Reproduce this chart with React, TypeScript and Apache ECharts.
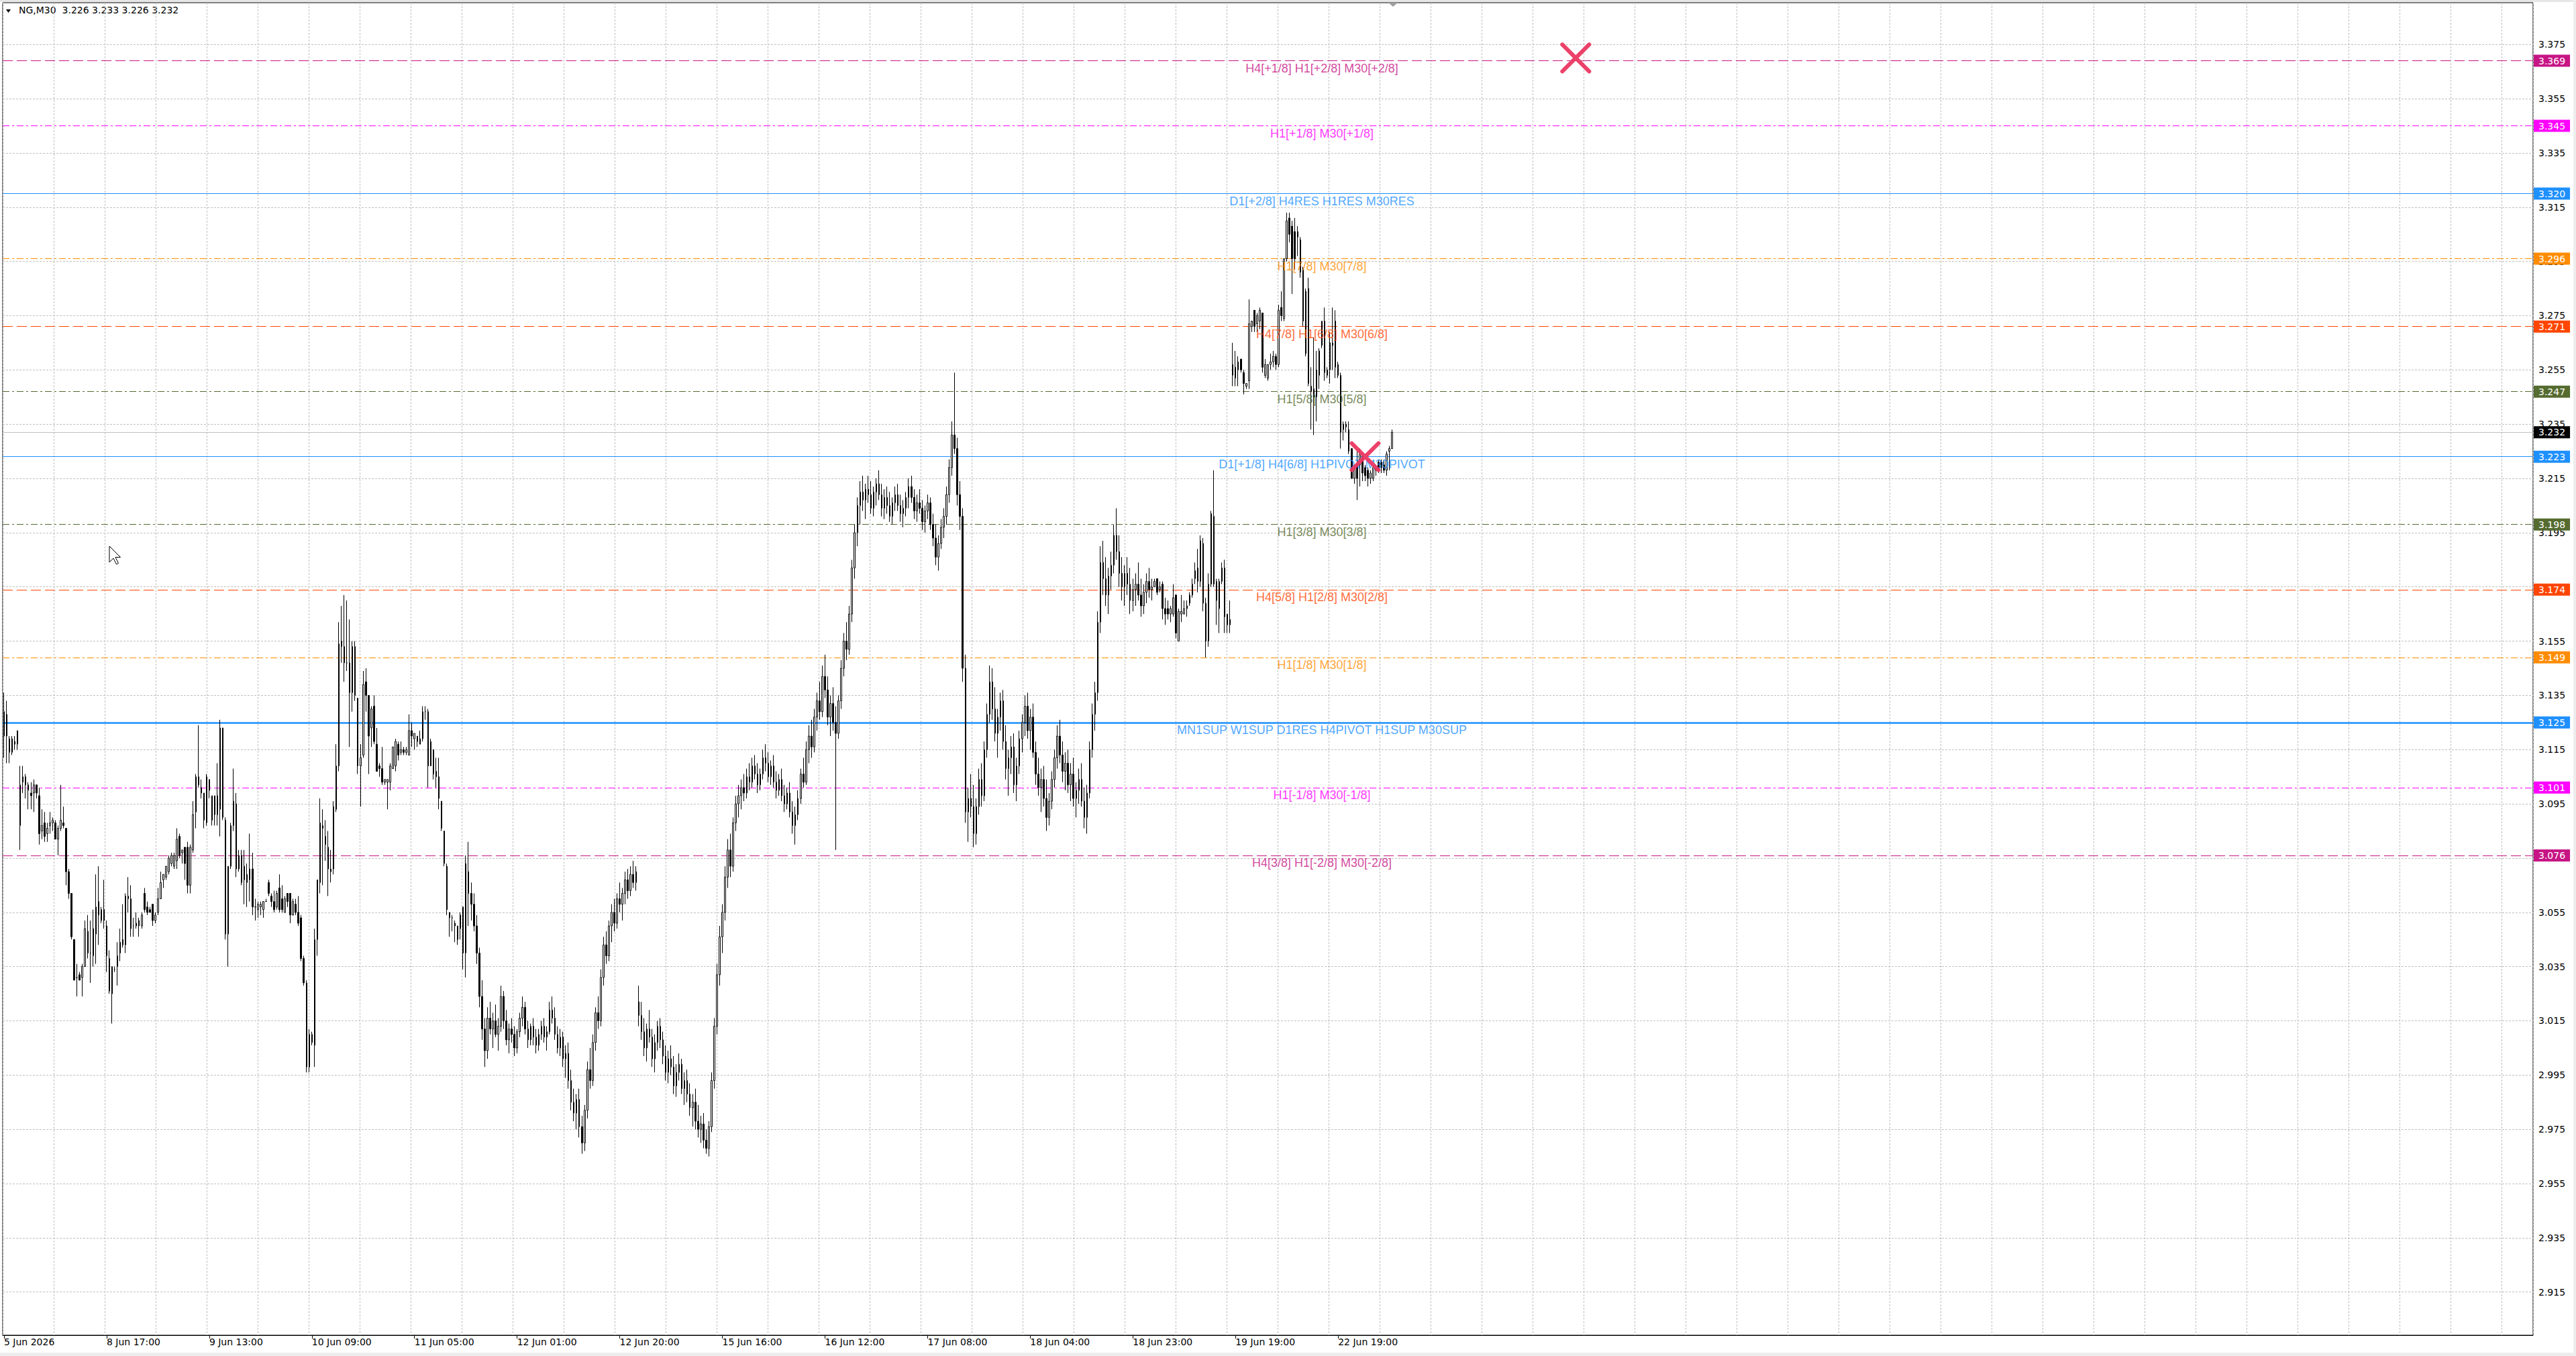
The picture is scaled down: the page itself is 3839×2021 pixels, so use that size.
import React, { useEffect, useRef } from 'react';
import * as echarts from 'echarts';

// ---------- DATA (prices in thousandths: [open, high, low, close]) ----------
const barsFri5Jun = [
  [3120,3136,3112,3129],[3128,3133,3110,3120],[3119,3120,3110,3114],[3114,3120,3113,3119],[3118,3120,3115,3117],[3117,3122,3115,3122],
];

const barsWeek8Jun = [
  [3087,3109,3078,3102],[3103,3109,3099,3105],[3102,3106,3097,3105],[3102,3103,3093,3100],[3099,3103,3093,3098],[3099,3104,3092,3102],[3102,3102,3097,3099],[3098,3101,3080,3084],[3085,3093,3082,3087],[3088,3092,3081,3083],
  [3084,3088,3081,3086],[3087,3092,3084,3088],[3088,3090,3085,3089],[3088,3089,3082,3082],[3082,3087,3076,3086],[3086,3102,3085,3089],[3088,3094,3086,3087],[3086,3086,3065,3070],[3070,3071,3060,3062],[3062,3062,3045,3046],
  [3045,3045,3030,3030],[3031,3036,3024,3031],[3032,3033,3030,3030],[3031,3036,3024,3035],[3035,3052,3035,3049],[3048,3054,3038,3040],[3040,3052,3029,3040],[3039,3056,3035,3049],[3047,3069,3036,3057],[3054,3072,3043,3059],
  [3056,3057,3051,3052],[3056,3067,3049,3052],[3050,3052,3033,3039],[3038,3041,3025,3026],[3025,3035,3014,3035],[3034,3035,3033,3034],[3035,3044,3028,3039],[3040,3049,3037,3044],[3045,3058,3042,3043],[3043,3062,3040,3061],
  [3060,3068,3055,3061],[3060,3065,3046,3049],[3050,3053,3046,3050],[3051,3055,3049,3050],[3050,3053,3046,3052],[3050,3055,3049,3054],[3062,3064,3055,3056],[3057,3059,3054,3055],[3056,3057,3055,3055],[3058,3058,3050,3052],
  [3052,3055,3051,3054],[3055,3064,3054,3060],[3060,3070,3060,3066],[3067,3069,3064,3069],[3068,3072,3067,3072],[3070,3076,3069,3075],[3073,3077,3072,3076],[3072,3077,3071,3076],[3074,3086,3071,3082],[3083,3084,3075,3076],
  [3077,3078,3073,3078],[3079,3079,3067,3073],[3079,3081,3062,3065],[3065,3080,3062,3079],[3078,3096,3077,3091],[3092,3106,3086,3105],[3105,3124,3101,3102],[3101,3104,3097,3099],[3099,3099,3086,3089],[3088,3106,3087,3105],
  [3104,3104,3097,3100],[3098,3098,3087,3089],[3091,3098,3087,3098],[3091,3110,3087,3098],[3093,3126,3083,3123],[3123,3123,3089,3090],[3089,3090,3045,3047],[3047,3072,3035,3072],[3072,3088,3071,3087],[3087,3108,3085,3096],
  [3095,3099,3068,3071],[3071,3078,3070,3076],[3076,3078,3065,3066],[3072,3078,3058,3067],[3069,3073,3057,3066],[3067,3084,3059,3071],[3071,3077,3054,3057],[3057,3060,3052,3057],[3056,3059,3053,3058],[3057,3059,3054,3058],
  [3056,3059,3053,3059],[3059,3060,3059,3059],[3066,3067,3061,3062],[3061,3062,3057,3059],[3059,3063,3055,3056],[3057,3063,3056,3062],[3064,3069,3055,3056],[3060,3065,3055,3056],[3055,3061,3055,3060],[3062,3062,3057,3059],
  [3062,3062,3051,3054],[3054,3060,3054,3059],[3058,3060,3054,3055],[3055,3061,3050,3051],[3053,3054,3037,3038],[3038,3039,3028,3029],[3029,3030,2996,2998],[3010,3012,2996,2998],[3010,3011,3006,3007],[3006,3049,2998,3045],
  [3045,3067,3039,3067],[3066,3097,3062,3088],[3087,3093,3065,3086],[3083,3089,3074,3080],[3079,3085,3061,3071],[3071,3078,3066,3070],[3071,3096,3069,3094],[3093,3117,3092,3109],[3109,3162,3107,3154],[3155,3168,3147,3153],
  [3153,3172,3140,3147],[3147,3170,3144,3147],[3147,3163,3116,3136],[3136,3155,3129,3153],[3153,3155,3133,3135],[3134,3134,3106,3109],[3109,3117,3094,3112],[3113,3144,3112,3139],[3140,3145,3129,3135],[3135,3135,3106,3120],
  [3123,3131,3116,3130],[3131,3135,3117,3118],[3117,3123,3107,3107],[3109,3110,3105,3108],[3108,3116,3102,3103],[3103,3104,3102,3104],[3103,3104,3093,3104],[3103,3110,3100,3109],[3108,3116,3108,3116],[3109,3119,3107,3118],
  [3117,3118,3111,3113],[3114,3118,3113,3115],[3115,3116,3113,3114],[3114,3116,3113,3115],[3113,3128,3113,3122],[3122,3125,3116,3120],[3119,3121,3115,3121],[3120,3120,3116,3118],[3117,3122,3117,3119],[3119,3131,3118,3129],
  [3129,3131,3126,3129],[3129,3130,3101,3109],[3109,3119,3109,3118],[3115,3115,3104,3106],[3107,3112,3101,3105],[3105,3112,3093,3097],[3096,3096,3085,3086],[3085,3085,3072,3073],[3072,3073,3054,3056],[3055,3055,3046,3053],
  [3053,3054,3048,3053],[3051,3052,3044,3050],[3050,3050,3043,3045],[3049,3055,3045,3054],[3057,3057,3034,3040],[3040,3076,3031,3073],[3070,3081,3050,3062],
  [3062,3066,3052,3058],[3058,3062,3048,3050],[3050,3054,3036,3040],[3040,3042,3020,3024],[3024,3030,3008,3012],[3012,3016,2998,3004],[3004,3020,3001,3016],[3016,3022,3010,3012],[3012,3018,3005,3015],[3015,3021,3009,3010],
  [3010,3016,3004,3013],[3013,3028,3011,3024],[3024,3026,3012,3015],[3015,3019,3006,3008],[3008,3014,3003,3012],[3012,3016,3007,3010],[3010,3013,3002,3005],[3005,3012,3003,3011],[3011,3018,3009,3016],[3016,3024,3013,3020],
  [3020,3022,3010,3012],[3012,3015,3005,3008],[3008,3014,3006,3013],[3013,3016,3006,3009],[3009,3012,3003,3006],[3006,3012,3004,3010],[3010,3015,3008,3013],[3013,3016,3007,3009],[3009,3013,3004,3011],[3011,3022,3010,3019],
  [3019,3024,3014,3016],[3016,3020,3008,3010],[3010,3013,3003,3005],[3005,3012,3002,3009],[3009,3011,2998,3001],[3001,3006,2994,3003],[3003,3007,2990,2993],[2993,2997,2982,2985],[2985,2990,2978,2981],[2981,2988,2975,2986],
  [2986,2990,2972,2976],[2976,2980,2966,2970],[2970,2984,2967,2982],[2982,3000,2979,2997],[2997,3005,2990,2993],[2993,3010,2991,3007],[3007,3020,3004,3018],[3018,3024,3012,3015],[3015,3034,3013,3031],[3031,3046,3028,3043],
  [3043,3048,3036,3039],[3039,3052,3037,3050],[3050,3058,3044,3055],[3055,3060,3048,3051],[3051,3062,3049,3060],[3060,3066,3055,3058],[3058,3064,3052,3062],[3062,3070,3058,3067],[3067,3071,3060,3063],[3063,3072,3061,3069],
  [3069,3074,3064,3066],[3066,3072,3063,3070],
];

const barsWeek15Jun = [
  [3022,3028,3013,3017],[3017,3022,3008,3011],[3011,3016,3002,3005],[3005,3014,3000,3012],[3012,3019,3007,3009],[3009,3012,2998,3001],[3001,3010,2996,3007],[3007,3015,3004,3013],[3013,3016,3005,3008],[3008,3011,2999,3002],
  [3002,3006,2993,2996],[2996,3004,2992,3001],[3001,3006,2995,2998],[2998,3002,2988,2991],[2991,2999,2987,2996],[2996,3003,2993,2999],[2999,3001,2988,2990],[2990,2996,2984,2993],[2993,2997,2985,2988],[2988,2992,2980,2983],
  [2983,2988,2976,2985],[2985,2990,2975,2978],[2978,2984,2972,2975],[2975,2980,2970,2977],[2977,2981,2968,2971],[2971,2975,2966,2968],[2968,2978,2965,2976],[2976,2996,2974,2993],[2993,3016,2990,3013],[3013,3036,3010,3032],
  [3032,3050,3028,3046],[3046,3058,3040,3055],[3055,3072,3052,3068],[3068,3082,3064,3078],[3078,3084,3068,3072],[3072,3090,3070,3088],[3088,3098,3085,3095],[3095,3102,3090,3098],[3098,3104,3093,3101],[3101,3106,3096,3099],
  [3099,3108,3097,3105],[3105,3110,3100,3103],[3103,3112,3101,3109],[3109,3113,3104,3106],[3106,3110,3099,3102],[3102,3108,3100,3106],[3106,3115,3104,3112],[3112,3117,3107,3110],[3110,3114,3103,3105],[3105,3111,3102,3109],
  [3109,3113,3101,3103],[3103,3107,3097,3100],[3100,3106,3098,3104],[3104,3108,3096,3098],[3098,3102,3092,3095],[3095,3101,3093,3099],[3099,3103,3090,3092],[3092,3096,3084,3087],[3087,3094,3080,3091],[3091,3100,3089,3097],
  [3097,3108,3095,3106],[3106,3112,3101,3103],[3103,3118,3102,3115],[3115,3124,3110,3120],[3120,3126,3112,3116],[3116,3130,3114,3127],[3127,3136,3122,3133],[3133,3140,3126,3129],[3129,3146,3127,3142],[3142,3150,3134,3137],
  [3137,3142,3124,3127],[3127,3135,3120,3132],[3132,3138,3122,3125],[3125,3131,3078,3121],[3121,3135,3119,3133],[3133,3148,3130,3145],[3145,3158,3142,3155],[3155,3162,3148,3152],[3152,3168,3150,3165],[3165,3185,3162,3182],
  [3182,3198,3178,3195],[3195,3208,3190,3205],[3205,3214,3198,3210],[3210,3216,3203,3207],[3207,3213,3200,3211],[3211,3216,3206,3209],[3209,3214,3202,3204],[3204,3212,3201,3210],[3210,3215,3205,3213],[3213,3218,3207,3209],
  [3209,3213,3201,3204],[3204,3211,3200,3208],[3208,3212,3202,3205],[3205,3210,3199,3201],[3201,3208,3198,3206],[3206,3212,3203,3209],[3209,3213,3203,3205],[3205,3209,3199,3202],[3202,3207,3197,3204],[3204,3210,3201,3208],
  [3208,3215,3204,3212],[3212,3216,3206,3208],[3208,3211,3200,3203],[3203,3209,3199,3206],[3206,3211,3202,3204],[3204,3207,3196,3199],[3199,3205,3195,3203],[3203,3209,3200,3206],[3206,3208,3196,3198],[3198,3202,3190,3193],
  [3193,3198,3183,3186],[3186,3194,3181,3191],[3191,3200,3189,3197],[3197,3204,3193,3201],[3201,3212,3198,3209],[3209,3222,3206,3219],[3219,3236,3216,3231],[3231,3254,3224,3226],[3226,3230,3205,3209],[3209,3214,3196,3201],
  [3201,3204,3140,3145],[3145,3150,3088,3092],[3092,3101,3081,3097],[3097,3106,3090,3094],[3094,3102,3079,3084],[3084,3097,3080,3094],[3094,3108,3091,3104],[3104,3110,3094,3098],[3098,3118,3096,3115],[3115,3132,3112,3128],
  [3128,3146,3125,3140],[3140,3145,3126,3130],[3130,3138,3118,3121],[3121,3130,3112,3127],[3127,3136,3122,3133],[3133,3137,3115,3118],[3118,3124,3104,3108],[3108,3115,3098,3112],[3112,3120,3106,3116],[3116,3121,3099,3102],
  [3102,3112,3096,3109],[3109,3122,3106,3119],[3119,3128,3114,3125],[3125,3135,3120,3131],[3131,3136,3119,3122],[3122,3130,3115,3127],[3127,3132,3112,3114],[3114,3118,3102,3106],[3106,3112,3098,3101],[3101,3108,3092,3104],
  [3104,3109,3094,3097],[3097,3104,3085,3090],[3090,3099,3087,3096],[3096,3107,3093,3104],[3104,3115,3101,3112],[3112,3124,3108,3120],[3120,3126,3110,3113],[3113,3118,3103,3107],[3107,3114,3100,3110],[3110,3115,3099,3102],
  [3102,3110,3096,3106],[3106,3112,3094,3097],[3097,3103,3090,3100],[3100,3108,3095,3104],[3104,3110,3094,3096],[3096,3101,3086,3090],[3090,3102,3084,3099],[3099,3118,3097,3115],[3115,3132,3112,3128],[3128,3140,3122,3136],
  [3136,3166,3133,3162],[3162,3190,3158,3184],[3184,3192,3172,3178],[3178,3186,3168,3172],[3172,3182,3165,3179],[3179,3188,3174,3183],[3183,3198,3180,3194],[3194,3204,3185,3188],[3188,3194,3175,3180],[3180,3186,3170,3175],
  [3175,3183,3168,3180],[3180,3186,3172,3176],[3176,3182,3165,3170],[3170,3178,3166,3174],[3174,3180,3168,3176],[3176,3184,3170,3172],[3172,3178,3164,3168],[3168,3176,3165,3173],[3173,3180,3169,3177],[3177,3182,3171,3174],
  [3174,3178,3170,3175],
  [3175,3178,3175,3177],[3178,3178,3172,3173],[3174,3177,3173,3175],[3176,3177,3163,3167],[3167,3171,3161,3165],[3167,3170,3163,3165],[3165,3168,3162,3167],[3165,3176,3164,3171],[3172,3172,3156,3158],[3155,3167,3155,3166],
  [3165,3172,3162,3166],[3165,3170,3165,3167],[3167,3170,3164,3168],[3169,3173,3168,3172],[3172,3178,3171,3176],[3178,3184,3176,3181],[3182,3189,3173,3177],[3177,3194,3175,3192],[3191,3193,3166,3169],[3169,3171,3149,3155],
  [3155,3180,3153,3176],[3176,3203,3175,3202],[3201,3218,3175,3176],[3170,3178,3161,3177],[3167,3178,3158,3177],[3177,3184,3176,3182],[3182,3185,3158,3164],[3165,3165,3158,3161],[3161,3170,3158,3163],
];

const barsMon22Jun = [
  [3253,3265,3249,3257],[3256,3262,3249,3252],[3255,3260,3249,3258],[3259,3259,3254,3255],[3254,3255,3246,3250],[3249,3250,3248,3250],[3251,3281,3248,3272],[3271,3273,3269,3273],[3277,3277,3269,3271],[3272,3276,3269,3275],
  [3273,3278,3270,3277],[3276,3276,3254,3256],[3253,3259,3252,3257],[3252,3257,3251,3257],[3257,3261,3255,3258],[3258,3262,3256,3260],[3260,3261,3255,3257],[3257,3279,3256,3277],[3278,3284,3273,3275],[3274,3296,3273,3296],
  [3296,3313,3295,3310],[3311,3313,3302,3305],[3308,3310,3283,3296],[3306,3311,3292,3296],[3306,3308,3297,3304],[3303,3304,3289,3291],[3292,3293,3271,3273],[3261,3285,3260,3284],[3285,3289,3249,3250],[3249,3256,3233,3247],
  [3248,3267,3231,3245],[3245,3262,3236,3255],[3253,3263,3248,3262],[3264,3273,3263,3273],[3273,3278,3251,3254],[3253,3256,3252,3255],[3255,3269,3250,3265],[3265,3278,3255,3264],[3273,3277,3252,3256],[3257,3258,3252,3253],
  [3253,3254,3226,3232],[3233,3236,3229,3235],[3235,3236,3232,3234],[3233,3236,3224,3225],[3226,3226,3215,3215],[3215,3220,3213,3219],[3220,3225,3207,3215],[3220,3226,3212,3224],[3223,3224,3214,3217],[3219,3220,3214,3216],
  [3218,3219,3212,3215],[3215,3218,3213,3217],[3215,3220,3214,3219],[3218,3220,3216,3219],[3221,3222,3217,3218],[3221,3222,3217,3219],[3220,3222,3217,3218],[3218,3225,3216,3224],[3225,3227,3218,3226],[3226,3233,3226,3232],
];

const TOTAL_SLOTS = 937; // bar slots on the time axis (data + empty right margin)

const xTickLabels: [number, string][] = [
  [0, '5 Jun 2026'], [38, '8 Jun 17:00'], [76, '9 Jun 13:00'], [114, '10 Jun 09:00'],
  [152, '11 Jun 05:00'], [190, '12 Jun 01:00'], [228, '12 Jun 20:00'], [266, '15 Jun 16:00'],
  [304, '16 Jun 12:00'], [342, '17 Jun 08:00'], [380, '18 Jun 04:00'], [418, '18 Jun 23:00'],
  [456, '19 Jun 19:00'], [494, '22 Jun 19:00'],
];

const yTickValues = [
  2.915, 2.935, 2.955, 2.975, 2.995, 3.015, 3.035, 3.055, 3.075, 3.095, 3.115, 3.135,
  3.155, 3.175, 3.195, 3.215, 3.235, 3.255, 3.275, 3.295, 3.315, 3.335, 3.355, 3.375,
];

const levelPrices = [3.369, 3.345, 3.320, 3.296, 3.271, 3.247, 3.223, 3.198, 3.174, 3.149, 3.125, 3.101, 3.076];
const levelTexts = [
  'H4[+1/8] H1[+2/8] M30[+2/8]',
  'H1[+1/8] M30[+1/8]',
  'D1[+2/8] H4RES H1RES M30RES',
  'H1[7/8] M30[7/8]',
  'H4[7/8] H1[6/8] M30[6/8]',
  'H1[5/8] M30[5/8]',
  'D1[+1/8] H4[6/8] H1PIVOT M30PIVOT',
  'H1[3/8] M30[3/8]',
  'H4[5/8] H1[2/8] M30[2/8]',
  'H1[1/8] M30[1/8]',
  'MN1SUP W1SUP D1RES H4PIVOT H1SUP M30SUP',
  'H1[-1/8] M30[-1/8]',
  'H4[3/8] H1[-2/8] M30[-2/8]',
];

const crossMarks = [[582, 3.370], [504, 3.223]];

// ---------- STYLES ----------
const DASH = [15, 6];
const DASHDOT = [10, 4, 3, 4];
const levelStyles = [
  { color: '#C71585', type: DASH, width: 1 },
  { color: '#FF00FF', type: DASHDOT, width: 1 },
  { color: '#1E90FF', type: 'solid', width: 1 },
  { color: '#FF8C00', type: DASHDOT, width: 1 },
  { color: '#FF4500', type: DASH, width: 1 },
  { color: '#556B2F', type: DASHDOT, width: 1 },
  { color: '#1E90FF', type: 'solid', width: 1 },
  { color: '#556B2F', type: DASHDOT, width: 1 },
  { color: '#FF4500', type: DASH, width: 1 },
  { color: '#FF8C00', type: DASHDOT, width: 1 },
  { color: '#1E90FF', type: 'solid', width: 2.5 },
  { color: '#FF00FF', type: DASHDOT, width: 1 },
  { color: '#C71585', type: DASH, width: 1 },
];

const AXIS_FONT = 'DejaVu Sans';
const TEXT_FONT = 'Liberation Sans';
const LEVEL_LABEL_SLOT = 488;
const Y_MIN = 2.8991;
const Y_MAX = 3.3904;

function buildOption() {
  const allBars = [...barsFri5Jun, ...barsWeek8Jun, ...barsWeek15Jun, ...barsMon22Jun];
  const candleData = allBars.map(([o, h, l, c]) => [o / 1000, c / 1000, l / 1000, h / 1000]);
  const last = allBars[allBars.length - 1];
  const lastClose = last[3] / 1000;
  const categories = Array.from({ length: TOTAL_SLOTS }, (_, i) => String(i));
  const labelMap = new Map<number, string>(xTickLabels);

  const gridLines = yTickValues.map((v) => ({
    yAxis: v,
    lineStyle: { color: '#C0C0C0', type: [3, 2], width: 1 },
    label: {
      show: true, position: 'end', distance: 8, formatter: v.toFixed(3),
      color: '#000', fontFamily: AXIS_FONT, fontSize: 14,
    },
  }));
  const boxLabel = (text: string, bg: string) => ({
    show: true, position: 'end', distance: 1, formatter: text,
    color: '#fff', backgroundColor: bg, padding: [2, 7, 1, 7],
    fontFamily: AXIS_FONT, fontSize: 14, lineHeight: 15,
  });
  const levelLines = levelPrices.map((p, i) => ({
    yAxis: p,
    lineStyle: { ...levelStyles[i] },
    label: boxLabel(p.toFixed(3), levelStyles[i].color),
  }));
  const priceLine = {
    yAxis: lastClose,
    lineStyle: { color: '#C0C0C0', type: 'solid', width: 1 },
    label: boxLabel(lastClose.toFixed(3), '#000000'),
  };

  const header = `NG,M30\u00a0\u00a0${(last[0] / 1000).toFixed(3)} ${(last[1] / 1000).toFixed(3)} ${(last[2] / 1000).toFixed(3)} ${(last[3] / 1000).toFixed(3)}`;

  return {
    animation: false,
    backgroundColor: '#ffffff',
    grid: { left: 4, top: 4, right: 64, bottom: 31, show: true, borderColor: '#000', borderWidth: 1, backgroundColor: 'transparent' },
    xAxis: [
      {
        type: 'category', data: categories, boundaryGap: true,
        axisLine: { show: true, lineStyle: { color: '#000', width: 1 } },
        axisTick: { show: true, alignWithLabel: true, interval: (i: number) => labelMap.has(i), length: 5, lineStyle: { color: '#000' } },
        axisLabel: {
          show: true, interval: (i: number) => labelMap.has(i),
          formatter: (_v: string, i: number) => labelMap.get(i) ?? '',
          align: 'left', margin: 3, color: '#000', fontFamily: AXIS_FONT, fontSize: 14,
        },
        splitLine: { show: false },
      },
      {
        type: 'value', min: 0, max: 3771, interval: 76, position: 'top',
        axisLine: { show: false }, axisTick: { show: false }, axisLabel: { show: false },
        splitLine: { show: true, lineStyle: { color: '#C0C0C0', type: [3, 2], width: 1 } },
      },
    ],
    yAxis: {
      type: 'value', position: 'right', min: Y_MIN, max: Y_MAX, scale: true,
      axisLine: { show: false }, axisTick: { show: false }, axisLabel: { show: false }, splitLine: { show: false },
    },
    series: [
      {
        type: 'candlestick', xAxisIndex: 0, yAxisIndex: 0, data: candleData,
        barWidth: 2, large: false, z: 2,
        itemStyle: { color: '#ffffff', color0: '#000000', borderColor: '#000000', borderColor0: '#000000', borderColorDoji: '#000000', borderWidth: 1 },
        markLine: {
          silent: true, z: 1, symbol: ['none', 'none'], animation: false, precision: 5,
          data: [...gridLines, priceLine, ...levelLines],
        },
      },
      {
        type: 'scatter', xAxisIndex: 0, yAxisIndex: 0, symbolSize: 0, silent: true, z: 3,
        data: levelPrices.map((p, i) => ({
          value: [LEVEL_LABEL_SLOT, p],
          label: {
            show: true, position: 'inside', offset: [0, 11], formatter: levelTexts[i],
            color: levelStyles[i].color, fontFamily: TEXT_FONT, fontSize: 18,
          },
        })),
      },
      {
        type: 'scatter', xAxisIndex: 0, yAxisIndex: 0, silent: true, z: 4,
        symbol: 'path://M0,0L40,40M40,0L0,40', symbolSize: 40,
        itemStyle: { color: 'none', borderColor: '#EA3862', borderWidth: 6, borderCap: 'round', opacity: 0.95 },
        data: crossMarks,
      },
    ],
    graphic: [
      { type: 'rect', shape: { x: 0, y: 0, width: 3839, height: 3 }, style: { fill: '#E6E6E6' }, silent: true },
      { type: 'rect', shape: { x: 0, y: 2016, width: 3839, height: 5 }, style: { fill: '#EDEDED' }, silent: true },
      { type: 'rect', shape: { x: 3835, y: 0, width: 4, height: 2021 }, style: { fill: '#EDEDED' }, silent: true },
      { type: 'polygon', shape: { points: [[9, 14], [16, 14], [12.5, 19]] }, style: { fill: '#000' }, silent: true },
      { type: 'text', x: 28, y: 8, style: { text: header, fill: '#000', font: `14px "${AXIS_FONT}"` }, silent: true },
      { type: 'polygon', shape: { points: [[2069, 4], [2083, 4], [2076, 10]] }, style: { fill: '#9E9E9E' }, silent: true },
      {
        type: 'polygon', silent: true,
        shape: { points: [[163, 814], [163, 838], [169, 832], [173.5, 841], [176.5, 839.5], [172, 830.5], [179.5, 830.5]] },
        style: { fill: '#ffffff', stroke: '#000000', lineWidth: 1 },
      },
    ],
  };
}

export default function App() {
  const ref = useRef<HTMLDivElement>(null);
  useEffect(() => {
    if (!ref.current) return;
    const chart = echarts.init(ref.current, null, { renderer: 'svg' });
    chart.setOption(buildOption() as any);
    return () => chart.dispose();
  }, []);
  return (
    <div
      ref={ref}
      style={{ position: 'fixed', left: 0, top: 0, width: '3839px', height: '2021px', background: '#ffffff' }}
    />
  );
}
